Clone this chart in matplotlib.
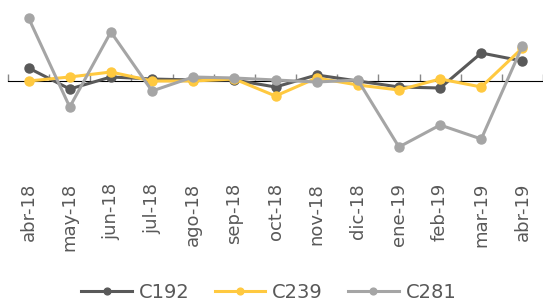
import matplotlib.pyplot as plt
import numpy as np

# data (relative units)
months = ["abr-18", "may-18", "jun-18", "jul-18", "ago-18", "sep-18", "oct-18",
          "nov-18", "dic-18", "ene-19", "feb-19", "mar-19", "abr-19"]
c192 = [1.3, -0.8, 0.4, 0.2, 0.1, 0.1, -0.6, 0.6, 0.0, -0.6, -0.7, 2.8, 2.0]
c239 = [0.0, 0.4, 0.9, 0.0, 0.0, 0.2, -1.5, 0.3, -0.4, -0.9, 0.2, -0.6, 3.3]
c281 = [6.3, -2.6, 4.9, -1.0, 0.4, 0.3, 0.1, -0.1, 0.1, -6.6, -4.4, -5.8, 3.5]

W, H = 543, 307
fig = plt.figure(figsize=(W / 100, H / 100), dpi=100)
ax = fig.add_axes([8 / W, 1 - 176 / H, 1 - 8 / W, (176 - 8) / H])

x = np.arange(len(months))
ax.plot(x, c192, color="#595959", lw=2.2, marker="o", ms=6.5, label="C192")
ax.plot(x, c239, color="#FFC940", lw=2.2, marker="o", ms=6.5, label="C239")
ax.plot(x, c281, color="#A5A5A5", lw=2.2, marker="o", ms=6.5, label="C281")

ymin, ymax = -9.5, 7.3
ax.set_xlim(-0.5, len(months) - 0.5)
ax.set_ylim(ymin, ymax)

for s in ax.spines.values():
    s.set_visible(False)
ax.set_yticks([])
ax.set_xticks(x)
ax.set_xticklabels(months, rotation=90, fontsize=13, color="#595959")
ax.tick_params(axis="x", length=0, pad=5)

# zero axis line with tick marks between categories
sec = ax.secondary_xaxis((0 - ymin) / (ymax - ymin))
sec.set_xticks(np.arange(-0.5, len(months), 1))
sec.set_xticklabels([])
sec.tick_params(axis="x", direction="out", length=5, color="#888888", width=1)
sec.spines["bottom"].set_color("#888888")
sec.spines["bottom"].set_linewidth(1.2)

fig.legend(loc="lower center", bbox_to_anchor=(0.495, -0.04), ncol=3, frameon=False,
           fontsize=14, labelcolor="#595959", handlelength=2.6, markerscale=0.75,
           columnspacing=1.3, handletextpad=0.35)

plt.savefig("out.png", dpi=100)
